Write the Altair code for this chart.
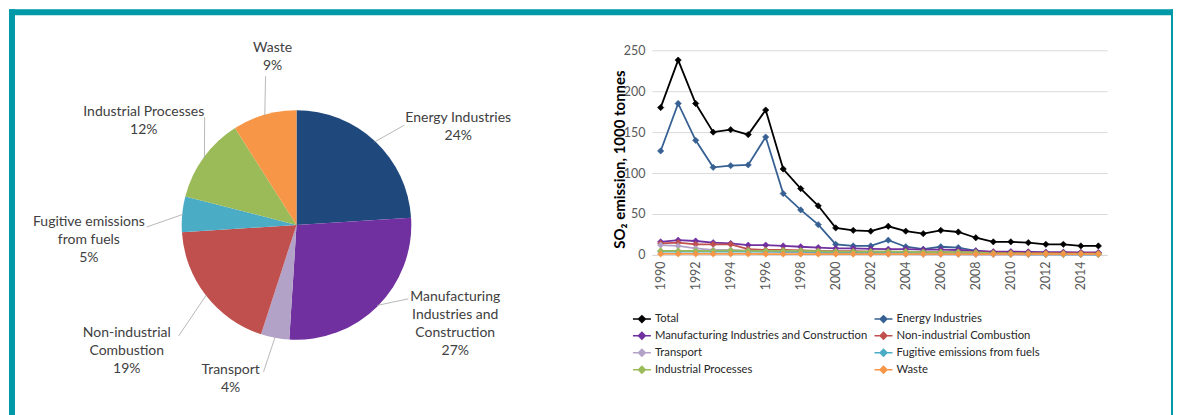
import math
import altair as alt
import pandas as pd

FONT = "Lato"

# ---------------- data ----------------
PIE_CATS = ["Energy Industries", "Manufacturing Industries and Construction", "Transport",
            "Non-industrial Combustion", "Fugitive emissions from fuels",
            "Industrial Processes", "Waste"]
PIE_SHARES = [24, 27, 4, 19, 5, 12, 9]
PIE_LABELS = ["Energy Industries", "Manufacturing\nIndustries and\nConstruction", "Transport",
              "Non-industrial\nCombustion", "Fugitive emissions\nfrom fuels",
              "Industrial Processes", "Waste"]
PIE_COLORS = ["#1F497D", "#7030A0", "#B3A2C7", "#C0504D", "#4BACC6", "#9BBB59", "#F79646"]

YEARS = [1990, 1991, 1992, 1993, 1994, 1995, 1996, 1997, 1998, 1999, 2000, 2001, 2002,
         2003, 2004, 2005, 2006, 2007, 2008, 2009, 2010, 2011, 2012, 2013, 2014, 2015]
TOTAL = [180, 238, 185, 150, 153, 147, 177, 105, 81, 60, 33, 30, 29, 35, 29, 26, 30, 28,
         21, 16, 16, 15, 13, 13, 11, 11]
ENERGY = [127, 185, 140, 107, 109, 110, 144, 75, 55, 37, 13, 11, 11, 18, 10, 7, 10, 9,
          5, 3, 3, 3, 2.5, 2.5, 2.5, 2.6]
MANUF = [16, 18, 17, 15, 14, 12, 12, 11, 10, 9, 8, 8, 7.5, 7, 7, 6.5, 6.5, 6, 5, 4, 4,
         3.8, 3.5, 3.4, 3.2, 3]
NONIND = [14, 15, 13, 13, 13, 7, 6, 6, 5.5, 5, 4.5, 4.5, 4, 4, 3.8, 3.5, 3.5, 3.3, 3,
          2.7, 2.6, 2.5, 2.4, 2.3, 2.2, 2.1]
TRANSPORT = [12, 11, 8, 6, 6, 5, 4, 3.5, 3, 2.5, 2, 1.5, 1.2, 1, 0.9, 0.8, 0.7, 0.6, 0.5,
             0.5, 0.45, 0.45, 0.4, 0.4, 0.4, 0.4]
FUGITIVE = [4, 4, 4, 4, 4.5, 4, 4, 4, 4, 3.5, 3.5, 3, 3, 3, 3, 2.5, 2.5, 2.5, 2, 1.5, 1,
            0.8, 0.7, 0.6, 0.6, 0.55]
INDPROC = [5, 5, 5, 5, 5.5, 5, 5, 5, 5, 4.5, 4, 4, 4, 4, 4, 3.5, 3.5, 3.5, 3, 2, 1.8,
           1.6, 1.5, 1.4, 1.3, 1.3]
WASTE = [1.2, 1.2, 1.2, 1.2, 1.2, 1.2, 1.1, 1.1, 1.1, 1.1, 1.1, 1.1, 1.0, 1.0, 1.0, 1.0,
         1.0, 1.0, 1.0, 1.0, 1.0, 1.0, 1.0, 1.0, 1.0, 1.0]

SERIES = ["Total", "Energy Industries", "Manufacturing Industries and Construction",
          "Non-industrial Combustion", "Transport", "Fugitive emissions from fuels",
          "Industrial Processes", "Waste"]
SERIES_VALUES = [TOTAL, ENERGY, MANUF, NONIND, TRANSPORT, FUGITIVE, INDPROC, WASTE]
SERIES_COLORS = ["#000000", "#376092", "#7030A0", "#C0504D", "#B3A2C7", "#4BACC6",
                 "#9BBB59", "#F79646"]
# legend lists entries column by column (4 rows x 2 columns)
LEGEND_ORDER = ["Total", "Manufacturing Industries and Construction", "Transport",
                "Industrial Processes", "Energy Industries", "Non-industrial Combustion",
                "Fugitive emissions from fuels", "Waste"]

Y_TICKS = [0, 50, 100, 150, 200, 250]
Y_TITLE = "SO\u2082 emission, 1000 tonnes"

# ---------------- layout (styling) ----------------
TOTAL_W = 1166
PIE_CX, PIE_CY, PIE_R = 288, 216, 115
# label first-line centre and leader-line outer end, in panel pixels
LABEL_LAYOUT = {
    "Energy Industries": (450, 109, 396, 116),
    "Manufacturing Industries and Construction": (447, 288, 400, 290),
    "Transport": (222, 361, 255, 363),
    "Non-industrial Combustion": (118, 324, 170, 327),
    "Fugitive emissions from fuels": (80, 213, 138, 218),
    "Industrial Processes": (135, 103, 196, 108),
    "Waste": (264, 39, 257, 67),
}
PANEL_W, PANEL_H = 560, 407
TEAL = "#0099A8"

# ---------------- pie panel ----------------
pie_df = pd.DataFrame({"cat": PIE_CATS, "share": PIE_SHARES, "ord": list(range(len(PIE_CATS)))})

rows = []
cum = 0
for cat, share, lab in zip(PIE_CATS, PIE_SHARES, PIE_LABELS):
    mid = (cum + share / 2) / sum(PIE_SHARES) * 2 * math.pi
    cum += share
    lx, ly, ex, ey = LABEL_LAYOUT[cat]
    rows.append({
        "cat": cat,
        "text": f"{lab}\n{share}%",
        "lx": lx, "ly": ly - 7,
        "ix": PIE_CX + (PIE_R - 1) * math.sin(mid),
        "iy": PIE_CY - (PIE_R - 1) * math.cos(mid),
        "ex": ex, "ey": ey,
    })
lab_df = pd.DataFrame(rows)

arcs = alt.Chart(pie_df).mark_arc(outerRadius=PIE_R, innerRadius=0).encode(
    theta=alt.Theta("share:Q", stack=True),
    color=alt.Color("cat:N", scale=alt.Scale(domain=PIE_CATS, range=PIE_COLORS), legend=None),
    order=alt.Order("ord:Q"),
    x=alt.value(PIE_CX),
    y=alt.value(PIE_CY),
)
leaders = alt.Chart(lab_df).mark_rule(color="#A6A6A6", strokeWidth=0.8).encode(
    x=alt.X("ix:Q", scale=None, axis=None),
    y=alt.Y("iy:Q", scale=None, axis=None),
    x2="ex:Q",
    y2="ey:Q",
)
labels = alt.Chart(lab_df).mark_text(
    lineBreak="\n", lineHeight=18, baseline="top", align="center",
    font=FONT, fontSize=14, color="#404040",
).encode(
    x=alt.X("lx:Q", scale=None, axis=None),
    y=alt.Y("ly:Q", scale=None, axis=None),
    text="text:N",
)
frame_df = pd.DataFrame({"k": [0]})
frame_left = alt.Chart(frame_df).mark_rect(color=TEAL).encode(
    x=alt.value(0), x2=alt.value(6), y=alt.value(0), y2=alt.value(PANEL_H))
frame_top = alt.Chart(frame_df).mark_rect(color=TEAL).encode(
    x=alt.value(0), x2=alt.value(TOTAL_W), y=alt.value(0), y2=alt.value(6))
frame_right = alt.Chart(frame_df).mark_rect(color=TEAL).encode(
    x=alt.value(TOTAL_W - 2), x2=alt.value(TOTAL_W), y=alt.value(0), y2=alt.value(PANEL_H))

left = alt.layer(frame_left, frame_top, frame_right, arcs, leaders, labels).properties(
    width=PANEL_W, height=PANEL_H)

# ---------------- line panel ----------------
recs = []
for name, vals in zip(SERIES, SERIES_VALUES):
    for yr, v in zip(YEARS, vals):
        recs.append({"series": name, "year": yr, "value": v})
line_df = pd.DataFrame(recs)

color_of = dict(zip(SERIES, SERIES_COLORS))
cscale = alt.Scale(domain=LEGEND_ORDER, range=[color_of[s] for s in LEGEND_ORDER])
SYM = "M-1,0L1,0M0,-0.38L0.38,0L0,0.38L-0.38,0Z"
leg = alt.Legend(
    title=None, orient="none", legendX=624, legendY=300, columns=2,
    columnPadding=4, rowPadding=0, symbolType=SYM, symbolSize=324,
    symbolStrokeWidth=1.5, labelFont=FONT, labelFontSize=11.3, labelColor="#262626",
    labelOffset=3, labelLimit=400,
)

x_enc = alt.X("year:O", scale=alt.Scale(type="point", padding=0.5),
              axis=alt.Axis(title=None, labelAngle=-90, labelExpr="datum.value % 2 == 0 ? datum.label : ''",
                            ticks=False, domain=True, domainColor="#D9D9D9", labelPadding=6,
                            labelFont=FONT, labelFontSize=12.5, labelColor="#595959", grid=False))
y_enc = alt.Y("value:Q", scale=alt.Scale(domain=[0, 300], nice=False, zero=True),
              axis=alt.Axis(values=Y_TICKS, title=Y_TITLE, grid=True, gridColor="#D9D9D9",
                            domain=False, ticks=False, labelPadding=7, labelFont=FONT,
                            labelFontSize=12.5, labelColor="#595959",
                            titleFont=FONT, titleFontSize=15, titleFontWeight="bold",
                            titleColor="#000000", titleAngle=270, titleAlign="center",
                            titleBaseline="middle", titleX=-32, titleY=150))

base = alt.Chart(line_df).encode(x=x_enc, y=y_enc)
lines = base.mark_line(strokeWidth=1.8).encode(
    stroke=alt.Stroke("series:N", scale=cscale, legend=leg),
)
pts = base.mark_point(filled=True, shape="diamond", size=40, opacity=1, strokeWidth=0.6).encode(
    fill=alt.Fill("series:N", scale=cscale, legend=leg),
    stroke=alt.Stroke("series:N", scale=cscale, legend=leg),
)
right = alt.layer(lines, pts).properties(width=456, height=246)

chart = alt.hconcat(left, right, spacing=84, bounds="flush").properties(
    padding=0, background="white"
).configure(font=FONT).configure_view(stroke="transparent")

chart.save("out.html", embed_options={"renderer": "svg", "actions": False})
